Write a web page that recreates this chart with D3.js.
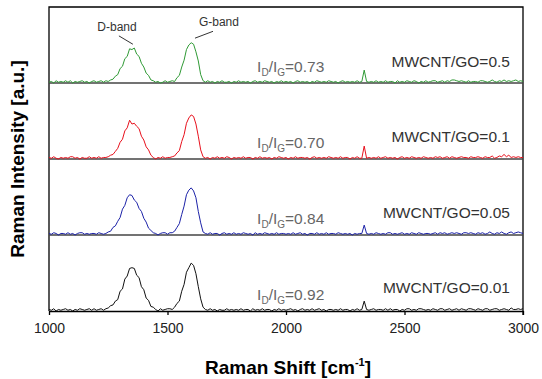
<!DOCTYPE html>
<html>
<head>
<meta charset="utf-8">
<script src="https://cdn.jsdelivr.net/npm/d3@7"></script>
<style>
  body { margin: 0; background: #fff; }
  svg { display: block; font-family: "Liberation Sans", Arial, sans-serif; }
</style>
</head>
<body>
<svg id="chart" width="542" height="379"></svg>
<script>
// Raman shift grid, 1000..3000 cm-1 every 10
const shifts = d3.range(1000, 3001, 10);

// intensities [a.u.], each panel (0 = panel baseline)
const go05 = [
  1,2,0,3,1,2,1,3,1,3,0,2,1,2,3,1,2,0,2,3,
  1,2,3,1,3,2,4,5,9,11,19,22,32,35,45,44,46,38,35,26,
  21,13,10,4,3,1,2,0,1,3,1,2,3,2,7,10,21,30,44,50,
  53,51,41,29,11,3,1,3,1,2,0,2,1,3,1,1,2,0,2,1,
  3,1,2,1,2,0,2,3,1,2,1,3,2,1,2,0,2,1,3,1,
  2,1,2,0,2,3,1,2,1,2,0,2,1,3,2,1,2,1,3,2,
  1,2,0,2,3,1,2,1,2,1,3,1,2,17,2,1,2,1,3,1,
  2,1,3,1,2,2,0,3,1,2,1,3,2,1,3,2,0,2,1,3,
  1,2,3,3,1,2,3,1,3,2,4,4,3,2,3,2,1,3,1,2,
  2,1,3,3,2,1,2,4,2,1,3,2,4,2,3,2,3,4,2,3,
  2
];
const go01 = [
  2,1,3,1,0,2,1,2,1,3,3,1,2,0,2,1,1,3,1,2,
  1,3,1,2,2,3,5,6,10,14,22,26,37,41,51,46,47,43,40,30,
  25,16,12,5,2,0,2,1,3,1,2,2,3,4,8,11,23,32,47,54,
  58,56,46,30,12,3,1,2,0,2,1,3,1,2,1,3,2,0,2,1,
  2,1,3,1,2,2,0,2,1,3,1,2,1,2,0,2,1,3,2,1,
  2,0,2,1,3,1,2,2,1,2,0,2,3,1,2,1,2,1,3,2,
  1,2,1,3,1,2,2,0,2,1,3,1,1,17,1,2,1,2,1,3,
  1,2,3,1,2,1,2,0,2,3,1,2,1,3,2,1,2,1,3,2,
  1,2,1,3,2,3,1,2,3,1,3,2,1,2,3,2,2,1,3,2,
  2,3,2,1,3,2,2,4,1,2,4,3,6,3,5,2,3,2,3,2,
  2
];
const go005 = [
  2,1,3,2,0,2,2,1,3,1,2,0,2,3,3,1,2,1,2,2,
  1,3,2,1,2,4,5,10,12,18,23,34,39,49,53,52,46,43,35,31,
  22,17,9,6,3,2,0,2,3,3,1,3,3,5,10,15,27,38,53,59,
  62,58,49,31,16,4,2,1,3,1,2,2,0,2,3,1,2,1,3,1,
  2,1,3,2,1,2,0,3,1,2,1,3,2,1,2,1,3,1,2,2,
  1,2,1,3,1,2,3,1,2,0,2,2,1,3,1,2,1,3,1,2,
  2,1,3,2,1,2,1,2,0,2,1,2,2,13,2,1,2,1,3,2,
  1,2,1,3,3,1,2,1,2,3,1,2,1,3,2,1,3,2,1,2,
  2,1,2,3,1,3,2,3,1,2,3,2,3,2,1,3,3,2,3,2,
  1,3,2,3,1,2,4,2,1,3,2,4,2,1,3,4,2,3,4,3,
  2
];
const go001 = [
  2,1,3,0,2,1,2,3,1,2,0,2,1,3,2,1,2,3,1,3,
  1,2,3,1,3,4,7,8,13,15,26,29,42,46,56,57,56,47,44,32,
  28,17,14,6,5,2,0,3,1,2,3,3,2,5,10,13,26,35,51,57,
  63,60,49,32,16,5,2,1,3,1,2,0,2,1,1,3,1,2,1,2,
  1,3,1,2,2,0,3,1,2,1,3,1,2,2,0,2,1,3,1,2,
  1,2,3,1,2,0,2,3,1,2,1,3,1,2,3,1,2,0,2,2,
  1,2,1,3,1,2,2,0,2,1,3,1,2,13,2,1,2,3,1,2,
  2,1,3,1,3,1,2,2,0,2,1,3,3,1,2,1,3,3,2,1,
  2,1,3,2,1,3,3,1,2,3,1,2,3,1,3,2,1,3,3,2,
  1,3,2,1,3,3,1,2,3,3,1,2,3,2,1,4,2,2,3,2,
  3
];

const seriesValues = [go05, go01, go005, go001];
const seriesNames = ["MWCNT/GO=0.5", "MWCNT/GO=0.1", "MWCNT/GO=0.05", "MWCNT/GO=0.01"];
const ratios = ["0.73", "0.70", "0.84", "0.92"];
const colors = ["#2f9a35", "#e8101c", "#1c22a8", "#111111"];
const xTicks = [1000, 1500, 2000, 2500, 3000];

const svg = d3.select("#chart");
const padL = 49, padR = 523, padT = 7, band = 76;
const axisY = padT + 4 * band;

const x = d3.scaleLinear().domain([1000, 3000]).range([padL, padR]);
// one band per sample, stacked top to bottom
const panel = d3.scaleBand().domain(d3.range(4)).range([padT, axisY]);
const yOf = i => d3.scaleLinear().domain([0, 100])
  .range([panel(i) + band, panel(i) + band - 76]);

// frame (top, left, right)
svg.append("path")
  .attr("d", `M${padL},${axisY}V${padT}H${padR}V${axisY + 4}`)
  .attr("fill", "none").attr("stroke", "#000").attr("stroke-width", 1.3);

seriesValues.forEach((vals, i) => {
  const y = yOf(i);
  const g = svg.append("g");

  if (i < 3) {
    g.append("line")
      .attr("x1", padL).attr("x2", padR)
      .attr("y1", y(0)).attr("y2", y(0))
      .attr("stroke", "#444").attr("stroke-width", 1.3);
  }

  const line = d3.line().x((d, k) => x(shifts[k])).y(d => y(d));
  g.append("path")
    .datum(vals)
    .attr("d", line)
    .attr("fill", "none")
    .attr("stroke", colors[i])
    .attr("stroke-width", 1);

  // I_D/I_G label
  const t = g.append("text")
    .attr("x", x(1878)).attr("y", y(15))
    .attr("fill", "#666").attr("font-size", 15.5);
  t.append("tspan").text("I");
  t.append("tspan").attr("font-size", 10).attr("dy", 4).text("D");
  t.append("tspan").attr("dy", -4).text("/I");
  t.append("tspan").attr("font-size", 10).attr("dy", 4).text("G");
  t.append("tspan").attr("dy", -4).text("=" + ratios[i]);

  g.append("text")
    .attr("x", x(2945)).attr("y", y(21 + i))
    .attr("text-anchor", "end")
    .attr("fill", "#333").attr("font-size", 15.5)
    .text(seriesNames[i]);
});

// band annotations on the top spectrum
const y0 = yOf(0);
const notes = [
  {label: "D-band", at: [1287, 68], from: [1295, 62], to: [1354, 51]},
  {label: "G-band", at: [1717, 75], from: [1692, 68], to: [1616, 59]}
];
notes.forEach(n => {
  svg.append("text")
    .attr("x", x(n.at[0])).attr("y", y0(n.at[1]))
    .attr("text-anchor", "middle").attr("font-size", 12).attr("fill", "#333")
    .text(n.label);
  svg.append("line")
    .attr("x1", x(n.from[0])).attr("y1", y0(n.from[1]))
    .attr("x2", x(n.to[0])).attr("y2", y0(n.to[1]))
    .attr("stroke", "#333").attr("stroke-width", 1);
});

// x axis
const axis = svg.append("g")
  .attr("transform", `translate(0,${axisY})`)
  .call(d3.axisBottom(x).tickValues(xTicks).tickFormat(d3.format("d"))
    .tickSize(4).tickSizeOuter(0).tickPadding(8));
axis.select(".domain").attr("stroke", "#000").attr("stroke-width", 1.3);
axis.selectAll(".tick line").attr("stroke", "#000").attr("stroke-width", 1.3);
axis.selectAll(".tick text")
  .attr("font-size", 14).attr("font-family", "Liberation Sans, Arial, sans-serif")
  .attr("fill", "#222");

// axis titles
const xt = svg.append("text")
  .attr("x", (padL + padR) / 2 + 2).attr("y", 374)
  .attr("text-anchor", "middle").attr("font-weight", "bold").attr("font-size", 19);
xt.append("tspan").text("Raman Shift [cm");
xt.append("tspan").attr("font-size", 11).attr("dy", -8).text("-1");
xt.append("tspan").attr("dy", 8).text("]");

svg.append("text")
  .attr("transform", `translate(24,${(padT + axisY) / 2}) rotate(-90)`)
  .attr("text-anchor", "middle").attr("font-weight", "bold").attr("font-size", 19)
  .text("Raman Intensity [a.u.]");
</script>
</body>
</html>
